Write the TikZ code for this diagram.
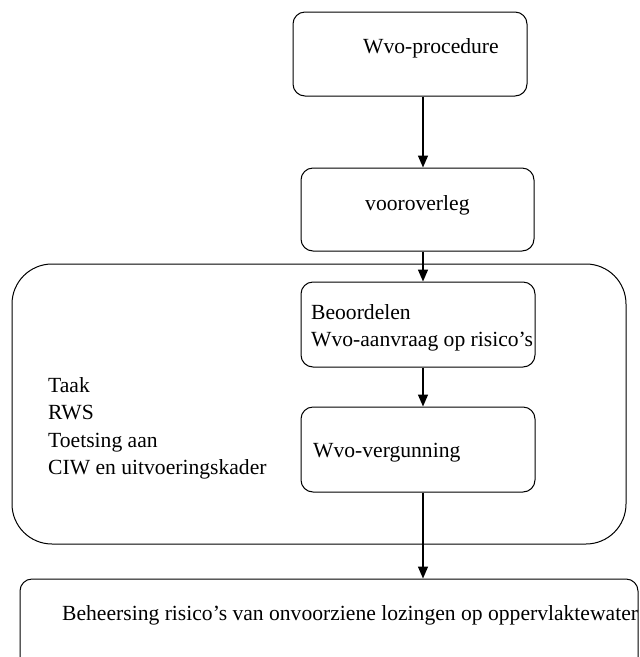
\documentclass[tikz,border=0pt]{standalone}
\usepackage{fontspec}
\setmainfont{Liberation Serif}
\usetikzlibrary{arrows.meta}
\begin{document}
\begin{tikzpicture}[x=1pt,y=-1pt,
  box/.style={draw, line width=1pt, rounded corners=12pt, inner sep=0pt},
  bigbox/.style={box, rounded corners=40pt},
  lbl/.style={anchor=base west, inner sep=0pt, font=\fontsize{21.6}{27.4}\selectfont},
  flow/.style={-{Triangle[length=12pt,width=10pt]}, line width=1.4pt}]
\useasboundingbox (0,0) rectangle (640,657);
\coordinate (ax) at (423,0);

% boxes
\node[box, minimum width=234pt, minimum height=84pt] (proc) at (410,54) {};
\node[box, minimum width=233pt, minimum height=83pt] (pre) at (417.5,209.5) {};
\node[bigbox, minimum width=614pt, minimum height=280pt] (rws) at (319,404) {};
\node[box, minimum width=234pt, minimum height=85pt] (judge) at (418,324.5) {};
\node[box, minimum width=234pt, minimum height=85pt] (permit) at (418,449.5) {};
\node[box, minimum width=618pt, minimum height=121pt] (ctrl) at (329,639.5) {};

% labels
\node[lbl] (tproc) at (363,53) {Wvo-procedure};
\node[lbl] (tpre) at (365,210) {vooroverleg};
\node[lbl] (tj1) at (311,319) {Beoordelen};
\node[lbl] (tj2) at (311,346) {Wvo-aanvraag op risico’s};
\node[lbl] (tr1) at (48,392) {Taak};
\node[lbl] (tr2) at (48,419) {RWS};
\node[lbl] (tr3) at (48,447) {Toetsing aan};
\node[lbl] (tr4) at (48,474) {CIW en uitvoeringskader};
\node[lbl] (tpermit) at (313,457) {Wvo-vergunning};
\node[lbl] (tctrl) at (62,620) {Beheersing risico’s van onvoorziene lozingen op oppervlaktewater};

% connectors
\draw[flow] (proc.south -| ax) -- (pre.north -| ax);
\draw[flow] (pre.south -| ax) -- (judge.north -| ax);
\draw[flow] (judge.south -| ax) -- (permit.north -| ax);
\draw[flow] (permit.south -| ax) -- (ctrl.north -| ax);
\end{tikzpicture}
\end{document}
